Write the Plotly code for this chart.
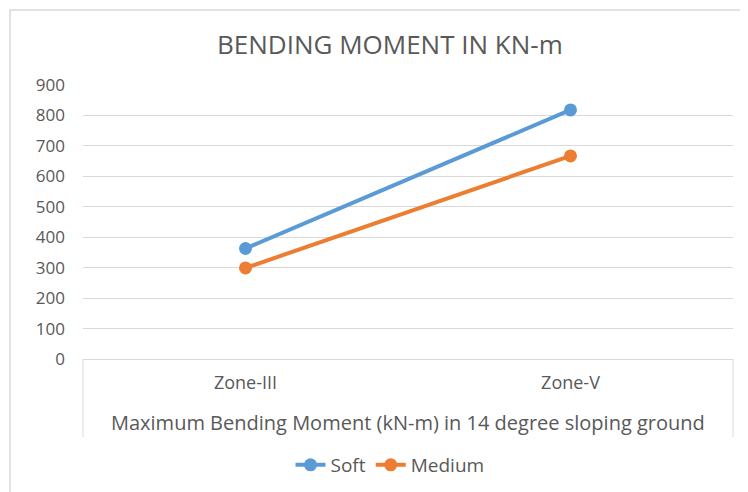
import plotly.graph_objects as go

categories = ["Zone-III", "Zone-V"]
soft = [363, 818]
medium = [299, 667]
y_ticks = [0, 100, 200, 300, 400, 500, 600, 700, 800, 900]

OFF = 8  # browser default body margin
W, H = 748 - OFF, 492 - OFF
# plot area in reference-image pixels
L, R, T, B = 83, 733, 85, 359

def px_x(x):
    return (x - L) / (R - L)

def px_y(y):
    return (B - y) / (B - T)

FONT = "'Open Sans', Lato, sans-serif"
GRAY = "#595959"

xs = list(range(len(categories)))

fig = go.Figure()
fig.add_trace(go.Scatter(x=xs, y=soft, name="Soft", mode="lines+markers",
                         line=dict(color="#5B9BD5", width=4),
                         marker=dict(size=13, color="#5B9BD5")))
fig.add_trace(go.Scatter(x=xs, y=medium, name="Medium", mode="lines+markers",
                         line=dict(color="#ED7D31", width=4),
                         marker=dict(size=13, color="#ED7D31")))

shapes = [
    dict(type="rect", xref="paper", yref="paper",
         x0=px_x(10), x1=px_x(770), y0=px_y(510), y1=px_y(10),
         line=dict(color="#D9D9D9", width=1.5), layer="below"),
    dict(type="line", xref="paper", yref="paper", x0=px_x(L), x1=px_x(L),
         y0=px_y(B), y1=px_y(437), line=dict(color="#D9D9D9", width=1)),
    dict(type="line", xref="paper", yref="paper", x0=px_x(R), x1=px_x(R),
         y0=px_y(B), y1=px_y(437), line=dict(color="#D9D9D9", width=1)),
]

annotations = [
    dict(text="BENDING MOMENT IN KN-m", xref="paper", yref="paper",
         x=px_x(390), y=px_y(44), xanchor="center", yanchor="middle",
         showarrow=False, font=dict(size=26, color=GRAY, family=FONT)),
    dict(text="Maximum Bending Moment (kN-m) in 14 degree sloping ground",
         xref="paper", yref="paper", x=px_x(408), y=px_y(422),
         xanchor="center", yanchor="middle", showarrow=False,
         font=dict(size=20, color=GRAY, family=FONT)),
]

fig.update_layout(
    width=W, height=H,
    margin=dict(l=L - OFF, r=(748 - R), t=T - OFF, b=(492 - B), autoexpand=False),
    paper_bgcolor="white", plot_bgcolor="white",
    font=dict(family=FONT, color=GRAY, size=17),
    xaxis=dict(range=[-0.5, 1.5], tickmode="array", tickvals=xs, ticktext=categories,
               showgrid=False, zeroline=False, showline=True, linecolor="#D9D9D9",
               linewidth=1, ticks="", ticklabelstandoff=7,
               tickfont=dict(size=18, color=GRAY)),
    yaxis=dict(range=[0, 900], tickmode="array", tickvals=y_ticks,
               showgrid=True, gridcolor="#D9D9D9", gridwidth=1, zeroline=False,
               showline=False, ticks="", ticklabelstandoff=17,
               tickfont=dict(size=17, color=GRAY)),
    legend=dict(orientation="h", x=px_x(390), xanchor="center", y=px_y(465),
                yanchor="middle", font=dict(size=19, color=GRAY),
                traceorder="normal"),
    shapes=shapes,
    annotations=annotations,
    showlegend=True,
)

fig.write_html("out.html")
